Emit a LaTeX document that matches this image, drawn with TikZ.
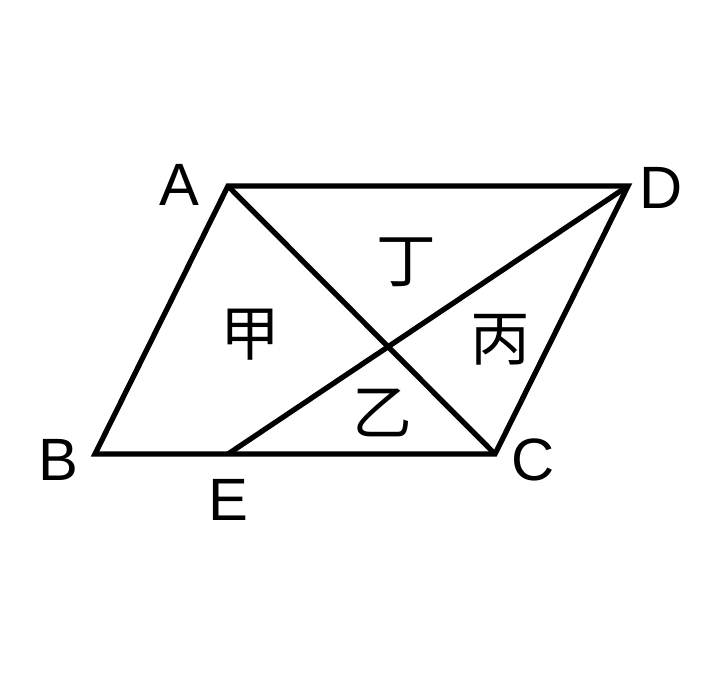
\documentclass[tikz,border=0pt]{standalone}
\usepackage{fontspec}
\setmainfont{Liberation Sans}
\newfontfamily\cjk{Noto Sans CJK SC}
\usepackage{tikz}

\tikzset{
  edge/.style={line width=1.5pt, line join=miter},
  vlabel/.style={font=\fontsize{17}{17}\selectfont},
  region/.style={font=\cjk\fontsize{17}{17}\selectfont}
}

\begin{document}
\begin{tikzpicture}
  \useasboundingbox (0,0) rectangle (7.2,6.8);
  \coordinate (A) at (2.28,4.94);
  \coordinate (D) at (6.28,4.94);
  \coordinate (B) at (0.95,2.26);
  \coordinate (C) at (4.95,2.26);
  \coordinate (E) at (2.28,2.26);
  \draw[edge] (A) -- (D) -- (C) -- (B) -- cycle;
  \draw[edge] (A) -- (C);
  \draw[edge] (E) -- (D);
  \node[vlabel] (labA) at (1.79,4.95) {A};
  \node[vlabel] (labD) at (6.61,4.92) {D};
  \node[vlabel] (labB) at (0.58,2.20) {B};
  \node[vlabel] (labC) at (5.33,2.20) {C};
  \node[vlabel] (labE) at (2.28,1.80) {E};
  \node[region] (jia)  at (2.50,3.45) {甲};
  \node[region] (ding) at (4.06,4.18) {丁};
  \node[region] (bing) at (5.00,3.40) {丙};
  \node[region] (yi)   at (3.82,2.67) {乙};
\end{tikzpicture}
\end{document}
